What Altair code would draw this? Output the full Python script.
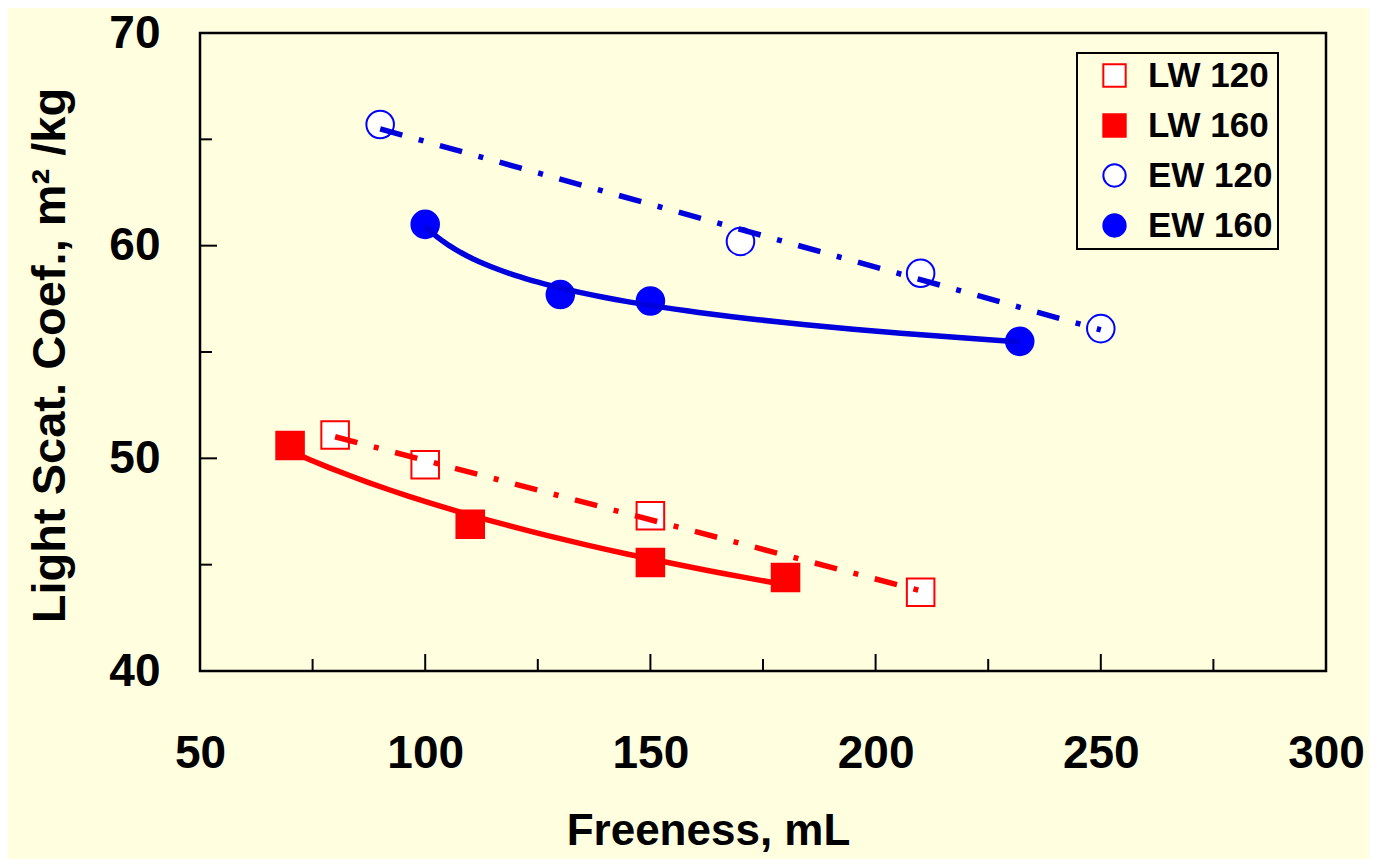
import altair as alt
import pandas as pd

series_names = ["LW 120", "LW 160", "EW 120", "EW 160"]
lw120_x = [80, 100, 150, 210]
lw120_y = [51.1, 49.7, 47.3, 43.7]
lw160_x = [70, 110, 150, 180]
lw160_y = [50.6, 46.9, 45.1, 44.4]
ew120_x = [90, 170, 210, 250]
ew120_y = [65.7, 60.2, 58.7, 56.1]
ew160_x = [100, 130, 150, 232]
ew160_y = [61.0, 57.7, 57.4, 55.5]

x_labels = [50, 100, 150, 200, 250, 300]
y_labels = [40, 50, 60, 70]
x_major = [100, 150, 200, 250]
x_minor = [75, 125, 175, 225, 275]
y_major = [50, 60]
y_minor = [45, 55, 65]

BG = "#FFFFE0"
FONT = "Liberation Sans"

rows = []
for name, xs, ys in zip(series_names,
                        [lw120_x, lw160_x, ew120_x, ew160_x],
                        [lw120_y, lw160_y, ew120_y, ew160_y]):
    for a, b in zip(xs, ys):
        rows.append({"series": name, "x": a, "y": b})
df = pd.DataFrame(rows)

xscale = alt.Scale(domain=[50, 300], nice=False, zero=False)
yscale = alt.Scale(domain=[40, 70], nice=False, zero=False)

xaxis = alt.Axis(values=x_labels, ticks=False, domain=False, grid=False,
                 labelFontSize=46, labelFont=FONT, labelFontWeight="bold",
                 labelColor="black", labelPadding=60, labelFlush=False,
                 title="Freeness, mL", titleFontSize=44, titleFont=FONT,
                 titleFontWeight="bold", titleColor="black",
                 titleX=508, titleY=173, titleAlign="center",
                 titleBaseline="alphabetic")
yaxis = alt.Axis(values=y_labels, ticks=False, domain=False, grid=False,
                 labelFontSize=46, labelFont=FONT, labelFontWeight="bold",
                 labelColor="black", labelPadding=40, labelFlush=False,
                 title="Light Scat. Coef., m² /kg", titleFontSize=47,
                 titleFont=FONT, titleFontWeight="bold", titleColor="black",
                 titleAngle=-90, titleX=-136, titleY=322, titleAlign="center",
                 titleBaseline="alphabetic")

X = alt.X("x:Q", scale=xscale, axis=xaxis)
Y = alt.Y("y:Q", scale=yscale, axis=yaxis)

legend = alt.Legend(orient="none", legendX=877, legendY=20, title=None,
                    labelFontSize=35, labelFont=FONT, labelFontWeight="bold",
                    labelColor="black", symbolSize=500, symbolStrokeWidth=2,
                    padding=5, symbolOffset=15, labelOffset=16, rowPadding=14,
                    labelExpr="datum.label + '\u00a0\u00a0'",
                    strokeColor="black", fillColor=BG)

points = alt.Chart(df).mark_point(size=760, strokeWidth=2, opacity=1,
                                  fillOpacity=1, strokeOpacity=1).encode(
    x=X, y=Y,
    shape=alt.Shape("series:N", scale=alt.Scale(domain=series_names,
                    range=["square", "square", "circle", "circle"]), legend=legend),
    fill=alt.Fill("series:N", scale=alt.Scale(domain=series_names,
                  range=["#FFFFFF", "#FF0000", "#FFFFFF", "#0000FF"]), legend=legend),
    stroke=alt.Stroke("series:N", scale=alt.Scale(domain=series_names,
                      range=["#FF0000", "#FF0000", "#0000FF", "#0000FF"]), legend=legend),
)

def line_style(color, dashed):
    kw = dict(color=color, strokeWidth=5.5, strokeCap="butt")
    if dashed:
        kw["strokeDash"] = [23, 17, 5, 17]
    return kw

def trend(name, method, color, dashed):
    return (alt.Chart(df).transform_filter(alt.datum.series == name)
            .transform_regression("x", "y", method=method)
            .mark_line(**line_style(color, dashed)).encode(x=X, y=Y))

def shifted_pow_trend(name, shift, color):
    # power-law trend fitted against (x - shift), then shifted back
    return (alt.Chart(df).transform_filter(alt.datum.series == name)
            .transform_calculate(w=f"datum.x - {shift}")
            .transform_regression("w", "y", method="pow")
            .transform_calculate(x=f"datum.w + {shift}")
            .mark_line(**line_style(color, False)).encode(x=X, y=Y))

lines = [
    trend("LW 120", "linear", "#FF0000", True),
    trend("LW 160", "log", "#FF0000", False),
    trend("EW 120", "linear", "#0000DD", True),
    shifted_pow_trend("EW 160", 90, "#0000DD"),
]

def xticks(vals, length):
    d = pd.DataFrame({"x": vals})
    return alt.Chart(d).mark_rule(color="black", strokeWidth=2).encode(
        x=X, y=alt.value(638), y2=alt.value(638 - length))

def yticks(vals, length):
    d = pd.DataFrame({"y": vals})
    return alt.Chart(d).mark_rule(color="black", strokeWidth=2).encode(
        y=Y, x=alt.value(0), x2=alt.value(length))

chart = alt.layer(points, *lines,
                  xticks(x_major, 17), xticks(x_minor, 12),
                  yticks(y_major, 17), yticks(y_minor, 12)).properties(
    width=1126, height=638,
    padding={"left": 192, "top": 25, "right": 43, "bottom": 188},
    autosize=alt.AutoSizeParams(type="none"),
    background=BG,
).configure_view(stroke="black", strokeWidth=2.5, fill=BG).configure_legend(
    strokeWidth=2
)

chart.save("out.html", embed_options={"renderer": "svg", "actions": False})
